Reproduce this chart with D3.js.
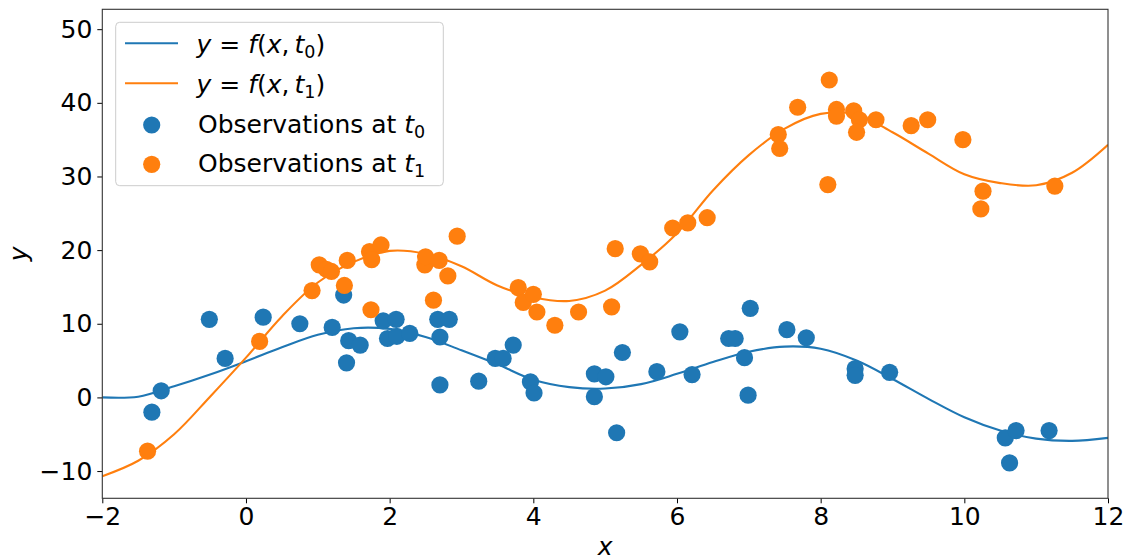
<!DOCTYPE html>
<html>
<head>
<meta charset="utf-8">
<script src="https://cdn.jsdelivr.net/npm/d3@7/dist/d3.min.js"></script>
<style>
  html, body { margin: 0; padding: 0; background: #fff; }
  svg { display: block; font-family: "DejaVu Sans", sans-serif; }
</style>
</head>
<body>
<svg id="chart" width="1128" height="560"></svg>
<script>
// ---- data ----
const xTicks = [-2, 0, 2, 4, 6, 8, 10, 12];
const yTicks = [-10, 0, 10, 20, 30, 40, 50];

// sampled curve f(x, t0)
const curveX  = [-2,-1.5,-1,-0.5,0,0.5,1,1.5,2,2.5,3,3.5,4,4.5,5,5.5,6,6.5,7,7.5,8,8.5,9,9.5,10,10.5,11,11.5,12];
const curveT0 = [0.0,0.1,1.5,3.1,4.9,6.8,8.5,9.4,9.3,8.2,6.4,4.5,2.4,1.4,1.2,1.8,3.2,4.8,6.2,6.9,6.6,5.0,2.5,-0.2,-2.7,-4.5,-5.6,-5.9,-5.5];
// sampled curve f(x, t1)
const curveT1 = [-10.7,-8.6,-5.0,0.1,5.4,11.0,15.6,18.4,19.9,19.5,17.8,15.2,13.6,13.1,14.5,18.0,22.3,28.1,32.9,36.5,38.5,38.4,36.0,33.1,30.3,29.1,28.8,30.5,34.3];

// observations at t0
const obsX0 = [-1.31,-1.18,-0.51,-0.29,0.24,0.75,1.20,1.36,1.43,1.40,1.59,1.91,1.97,2.09,2.10,2.28,2.67,2.70,2.83,2.70,3.24,3.47,3.58,3.72,3.96,4.01,4.85,4.85,5.01,5.16,5.24,5.72,6.04,6.21,6.72,6.81,6.94,6.99,7.02,7.53,7.80,8.48,8.48,8.96,10.57,10.63,10.72,11.18];
const obsY0 = [-2.0,0.9,10.6,5.3,10.9,10.0,9.5,13.9,7.7,4.7,7.1,10.4,8.0,10.6,8.3,8.7,10.6,8.2,10.6,1.7,2.2,5.3,5.3,7.1,2.1,0.6,3.2,0.1,2.8,-4.8,6.1,3.5,8.9,3.1,8.0,8.0,5.4,0.3,12.1,9.2,8.1,3.9,3.0,3.4,-5.5,-8.9,-4.5,-4.5];

// observations at t1
const obsX1 = [-1.37,0.19,0.92,1.02,1.12,1.19,1.37,1.41,1.72,1.75,1.74,1.88,2.49,2.50,2.61,2.69,2.81,2.94,3.79,3.86,4.00,4.05,4.30,4.63,5.09,5.14,5.49,5.62,5.94,6.15,6.42,7.41,7.43,7.68,8.10,8.12,8.22,8.22,8.46,8.54,8.50,8.77,9.26,9.49,9.98,10.26,10.23,11.26];
const obsY1 = [-7.3,7.6,14.5,18.0,17.4,17.1,15.2,18.6,19.8,18.7,11.9,20.7,18.0,19.1,13.2,18.6,16.5,21.9,14.9,12.9,14.0,11.6,9.8,11.6,12.3,20.2,19.5,18.4,23.0,23.7,24.4,35.7,33.8,39.4,28.9,43.1,39.1,38.2,38.9,37.7,36.0,37.7,36.9,37.7,35.0,28.0,25.6,28.7];

const legendLabels = ["Observations at ", "Observations at "];

// ---- layout ----
const W = 1128, H = 560;
const L = 102.3, R = 1108, T = 9.3, B = 498.3;
const FS = 25;
const blue = "#1f77b4", orange = "#ff7f0e";

const svg = d3.select("#chart");
const x = d3.scaleLinear().domain([-2, 12]).range([L, R]);
const y = d3.scaleLinear().domain([-13.7, 52.7]).range([B, T]);

svg.append("defs").append("clipPath").attr("id", "clip")
  .append("rect").attr("x", L).attr("y", T).attr("width", R - L).attr("height", B - T);

const plot = svg.append("g").attr("clip-path", "url(#clip)");

const line = d3.line().x(d => x(d[0])).y(d => y(d[1])).curve(d3.curveCatmullRom.alpha(0.5));

plot.append("path").datum(curveX.map((v, i) => [v, curveT0[i]]))
  .attr("d", line).attr("fill", "none").attr("stroke", blue).attr("stroke-width", 2.1);
plot.append("path").datum(curveX.map((v, i) => [v, curveT1[i]]))
  .attr("d", line).attr("fill", "none").attr("stroke", orange).attr("stroke-width", 2.1);

const R_PT = 8.6;
plot.append("g").selectAll("circle").data(obsX0.map((v, i) => [v, obsY0[i]])).join("circle")
  .attr("cx", d => x(d[0])).attr("cy", d => y(d[1])).attr("r", R_PT).attr("fill", blue);
plot.append("g").selectAll("circle").data(obsX1.map((v, i) => [v, obsY1[i]])).join("circle")
  .attr("cx", d => x(d[0])).attr("cy", d => y(d[1])).attr("r", R_PT).attr("fill", orange);

// ---- axes ----
const fmt = d => (d < 0 ? "\u2212" + Math.abs(d) : String(d));
const xAxis = svg.append("g").attr("transform", `translate(0,${B})`)
  .call(d3.axisBottom(x).tickValues(xTicks).tickFormat(fmt).tickSizeInner(5).tickSizeOuter(0).tickPadding(4));
const yAxis = svg.append("g").attr("transform", `translate(${L},0)`)
  .call(d3.axisLeft(y).tickValues(yTicks).tickFormat(fmt).tickSizeInner(5).tickSizeOuter(0).tickPadding(5));
[xAxis, yAxis].forEach(a => {
  a.select(".domain").remove();
  a.selectAll(".tick line").attr("stroke", "#000").attr("stroke-width", 1);
  a.selectAll(".tick text").attr("fill", "#000").style("font-size", FS + "px").style("font-family", "DejaVu Sans");
});

// frame
svg.append("rect").attr("x", L).attr("y", T).attr("width", R - L).attr("height", B - T)
  .attr("fill", "none").attr("stroke", "#333").attr("stroke-width", 1.1);

// axis labels
svg.append("text").attr("x", (L + R) / 2).attr("y", 555).attr("text-anchor", "middle")
  .style("font-size", FS + "px").style("font-style", "italic").text("x");
svg.append("text").attr("transform", `translate(26.5,${(T + B) / 2}) rotate(-90)`).attr("text-anchor", "middle")
  .style("font-size", FS + "px").style("font-style", "italic").text("y");

// ---- legend ----
const lg = svg.append("g");
lg.append("rect").attr("x", 115.7).attr("y", 22.3).attr("width", 443.3 - 115.7).attr("height", 185.7 - 22.3)
  .attr("rx", 4).attr("fill", "#fff").attr("fill-opacity", 0.8).attr("stroke", "#cccccc").attr("stroke-width", 1);

function mathLabel(g, yBase, sub) {
  const t = g.append("text").attr("x", 196.5).attr("y", yBase).style("font-size", FS + "px");
  t.append("tspan").style("font-style", "italic").text("y");
  t.append("tspan").text(" = ");
  t.append("tspan").style("font-style", "italic").text("f");
  t.append("tspan").text("(");
  t.append("tspan").style("font-style", "italic").text("x");
  t.append("tspan").text(",\u2009");
  t.append("tspan").style("font-style", "italic").text("t");
  t.append("tspan").attr("dy", 5).style("font-size", (FS * 0.7) + "px").text(sub);
  t.append("tspan").attr("dy", -5).text(")");
}
function obsLabel(g, yBase, sub, label) {
  const t = g.append("text").attr("x", 198).attr("y", yBase).style("font-size", FS + "px");
  t.append("tspan").text(label);
  t.append("tspan").style("font-style", "italic").text("t");
  t.append("tspan").attr("dy", 5).style("font-size", (FS * 0.7) + "px").text(sub);
}

lg.append("line").attr("x1", 125).attr("x2", 178).attr("y1", 43.3).attr("y2", 43.3).attr("stroke", blue).attr("stroke-width", 2.1);
mathLabel(lg, 52.5, "0");
lg.append("line").attr("x1", 125).attr("x2", 178).attr("y1", 83.3).attr("y2", 83.3).attr("stroke", orange).attr("stroke-width", 2.1);
mathLabel(lg, 92.5, "1");
lg.append("circle").attr("cx", 151.7).attr("cy", 125).attr("r", R_PT).attr("fill", blue);
obsLabel(lg, 132.5, "0", legendLabels[0]);
lg.append("circle").attr("cx", 151.7).attr("cy", 164.3).attr("r", R_PT).attr("fill", orange);
obsLabel(lg, 171.7, "1", legendLabels[1]);
</script>
</body>
</html>
